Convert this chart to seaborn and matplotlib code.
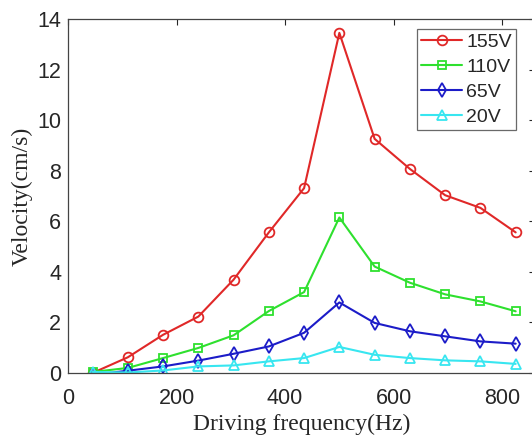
import numpy as np
import pandas as pd
import matplotlib
matplotlib.use("Agg")
import matplotlib.pyplot as plt
import seaborn as sns

freq = [45, 110, 175, 240, 305, 370, 435, 500, 565, 630, 695, 760, 825]
v155 = [0.0, 0.62, 1.51, 2.23, 3.69, 5.56, 7.31, 13.45, 9.26, 8.07, 7.03, 6.53, 5.56]
v110 = [0.04, 0.20, 0.59, 0.99, 1.49, 2.45, 3.20, 6.15, 4.21, 3.57, 3.11, 2.83, 2.44]
v65 = [-0.07, 0.09, 0.26, 0.49, 0.76, 1.05, 1.59, 2.79, 1.98, 1.65, 1.45, 1.25, 1.16]
v20 = [0.04, 0.02, 0.10, 0.26, 0.30, 0.46, 0.59, 1.03, 0.72, 0.59, 0.50, 0.46, 0.36]
labels = ["155V", "110V", "65V", "20V"]
colors = ["#e02828", "#2ee02e", "#1c1cc8", "#38e6f0"]
markers = ["o", "s", "d", "^"]
msizes = [7, 5.5, 7.5, 7]

sns.set_theme(style="white")
plt.rcParams['font.family'] = ['Liberation Sans', 'DejaVu Sans']

fig = plt.figure(figsize=(5.32, 4.36), dpi=100)
ax = fig.add_axes([0.128, 0.1445, 0.877, 0.812])

series = [v155, v110, v65, v20]
for lab, vals, c, m, ms in zip(labels, series, colors, markers, msizes):
    df = pd.DataFrame({"Frequency": freq, "Velocity": vals})
    sns.lineplot(data=df, x="Frequency", y="Velocity", ax=ax, color=c,
                 marker=m, markersize=ms,
                 markerfacecolor="none", markeredgecolor=c,
                 markeredgewidth=1.3, linewidth=1.5, label=lab)

ax.set_xlim(0, 860)
ax.set_ylim(0, 14)
ax.set_xticks([0, 200, 400, 600, 800])
ax.set_yticks(range(0, 15, 2))
ax.tick_params(direction="in", top=True, right=True, length=4, width=0.8,
               labelsize=15.5, colors="#262626", pad=5)
ax.tick_params(axis="x", pad=11)
for s in ax.spines.values():
    s.set_color("#444444")
    s.set_linewidth(0.9)

ax.set_xlabel("Driving frequency(Hz)", family=["Liberation Serif", "DejaVu Serif"],
              fontsize=17, color="#262626", labelpad=3)
ax.set_ylabel("Velocity(cm/s)", family=["Liberation Serif", "DejaVu Serif"],
              fontsize=17, color="#262626", labelpad=3)

leg = ax.legend(loc="upper right", bbox_to_anchor=(0.96, 0.972), fontsize=14,
                frameon=True, fancybox=False, edgecolor="#444444",
                handlelength=2.1, handletextpad=0.2, borderpad=0.22,
                labelspacing=0.38, borderaxespad=0.0)
leg.get_frame().set_linewidth(0.9)

fig.savefig("out.png", dpi=100)
